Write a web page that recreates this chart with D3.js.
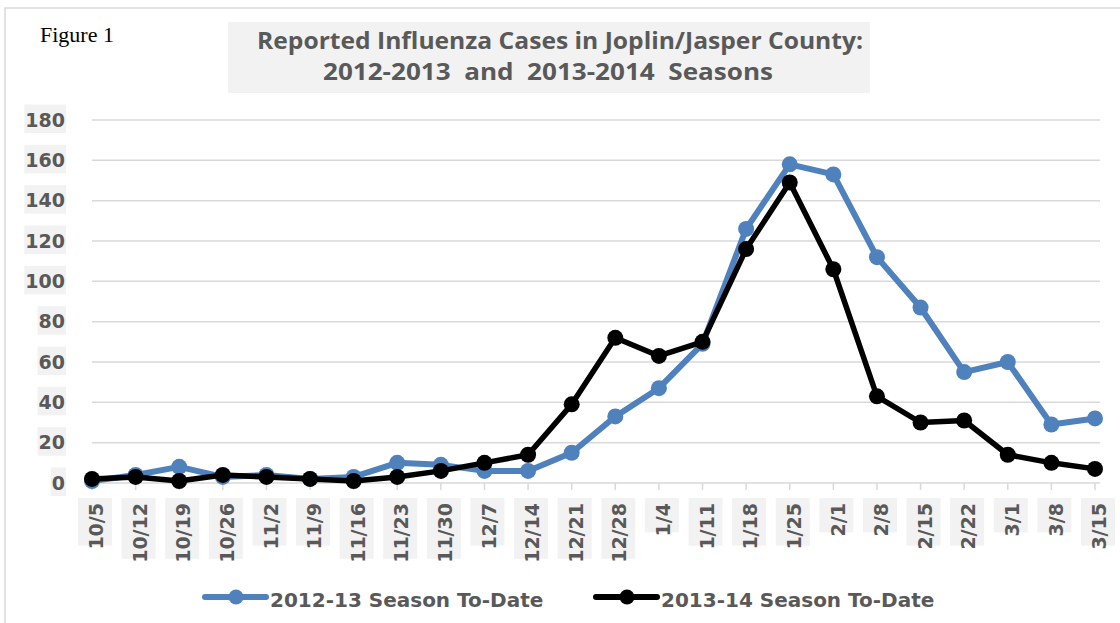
<!DOCTYPE html>
<html>
<head>
<meta charset="utf-8">
<script src="https://cdn.jsdelivr.net/npm/d3@7"></script>
<style>
  body { margin: 0; background: #fff; }
  svg text { white-space: pre; }
</style>
</head>
<body>
<div id="svg"></div>
<script>
// week labels (x axis)
var weeks = ["10/5","10/12","10/19","10/26","11/2","11/9","11/16","11/23","11/30","12/7","12/14",
             "12/21","12/28","1/4","1/11","1/18","1/25","2/1","2/8","2/15","2/22","3/1","3/8","3/15"];
// reported cases per week
var season1213 = [1,4,8,3,4,2,3,10,9,6,6,15,33,47,69,126,158,153,112,87,55,60,29,32];
var season1314 = [2,3,1,4,3,2,1,3,6,10,14,39,72,63,70,116,149,106,43,30,31,14,10,7];
var yTicks = [0,20,40,60,80,100,120,140,160,180];
var seriesNames = ["2012-13 Season To-Date", "2013-14 Season To-Date"];
var titleLines = ["Reported Influenza Cases in Joplin/Jasper County:", "2012-2013  and  2013-2014  Seasons"];

var width = 1120, height = 623;
var blue = "#4F81BD", grey = "#595959", light = "#D9D9D9", boxFill = "#F2F2F2";
var labelFont = "'DejaVu Sans', sans-serif";

var svg = d3.select("#svg").append("svg")
    .attr("width", width)
    .attr("height", height);

// outer chart frame (only top and left visible)
svg.append("rect")
    .attr("x", 5).attr("y", 8)
    .attr("width", 1300).attr("height", 800)
    .attr("fill", "none")
    .attr("stroke", light)
    .attr("stroke-width", 1.5);

svg.append("text")
    .attr("x", 40).attr("y", 42)
    .attr("font-family", "'Liberation Serif', serif")
    .attr("font-size", 22)
    .attr("fill", "#000")
    .text("Figure 1");

// title box
svg.append("rect")
    .attr("x", 228).attr("y", 22)
    .attr("width", 642).attr("height", 71)
    .attr("fill", boxFill);

var titleLen = [606, 450], titleX = [560, 548], titleY = [49, 80];
titleLines.forEach(function(t, i) {
  svg.append("text")
      .attr("x", titleX[i]).attr("y", titleY[i])
      .attr("text-anchor", "middle")
      .attr("font-family", "'Open Sans', sans-serif")
      .attr("font-weight", "bold")
      .attr("font-size", 23.5)
      .attr("fill", grey)
      .attr("textLength", titleLen[i])
      .attr("lengthAdjust", "spacingAndGlyphs")
      .text(t);
});

var x = d3.scalePoint().domain(weeks).range([92, 1095]);
var y = d3.scaleLinear().domain([0, 180]).range([483, 120]);

// gridlines
svg.append("g").selectAll("line")
  .data(yTicks.slice(1))
  .enter().append("line")
    .attr("x1", 92).attr("x2", 1100)
    .attr("y1", function(d) { return y(d); })
    .attr("y2", function(d) { return y(d); })
    .attr("stroke", light)
    .attr("stroke-width", 1.5);

// y axis labels with grey boxes
var yl = svg.append("g").selectAll("g")
  .data(yTicks)
  .enter().append("g")
    .attr("transform", function(d) { return "translate(65," + y(d) + ")"; });
yl.append("text")
    .attr("text-anchor", "end")
    .attr("dy", "0.35em")
    .attr("font-family", labelFont)
    .attr("font-weight", "bold")
    .attr("font-size", 19)
    .attr("fill", grey)
    .text(function(d) { return d; });
yl.each(function() {
  var g = d3.select(this), b = g.select("text").node().getBBox();
  g.insert("rect", "text")
    .attr("x", b.x - 1).attr("y", -15.5)
    .attr("width", b.width + 2).attr("height", 28.5)
    .attr("fill", boxFill);
});

// x axis line + ticks
svg.append("line")
    .attr("x1", 92).attr("x2", 1100)
    .attr("y1", y(0)).attr("y2", y(0))
    .attr("stroke", light).attr("stroke-width", 1.5);
svg.append("g").selectAll("line")
  .data(weeks)
  .enter().append("line")
    .attr("x1", function(d) { return x(d); })
    .attr("x2", function(d) { return x(d); })
    .attr("y1", y(0)).attr("y2", y(0) + 7)
    .attr("stroke", light).attr("stroke-width", 1.5);

// rotated week labels
var xl = svg.append("g").selectAll("g")
  .data(weeks)
  .enter().append("g")
    .attr("transform", function(d) { return "translate(" + (x(d) + 3) + ",503) rotate(-90)"; });
xl.append("text")
    .attr("text-anchor", "end")
    .attr("y", 1.5)
    .attr("dy", "0.35em")
    .attr("font-family", labelFont)
    .attr("font-weight", "bold")
    .attr("font-size", 19)
    .attr("fill", grey)
    .text(function(d) { return d; });
xl.each(function() {
  var g = d3.select(this), b = g.select("text").node().getBBox();
  g.insert("rect", "text")
    .attr("x", b.x + 4).attr("y", -17)
    .attr("width", b.width + 1).attr("height", 34)
    .attr("fill", boxFill);
});

// series
var line = d3.line()
    .x(function(d, i) { return x(weeks[i]); })
    .y(function(d) { return y(d); });

var series = [
  {name: seriesNames[0], values: season1213, color: blue, w: 6},
  {name: seriesNames[1], values: season1314, color: "#000", w: 5.5}
];

series.forEach(function(s) {
  svg.append("path")
      .datum(s.values)
      .attr("fill", "none")
      .attr("stroke", s.color)
      .attr("stroke-width", s.w)
      .attr("stroke-linejoin", "round")
      .attr("d", line);
  svg.append("g").selectAll("circle")
    .data(s.values)
    .enter().append("circle")
      .attr("cx", function(d, i) { return x(weeks[i]); })
      .attr("cy", function(d) { return y(d); })
      .attr("r", 8)
      .attr("fill", s.color);
});

// legend
var legX = [205, 596];
series.forEach(function(s, i) {
  var lg = svg.append("g").attr("transform", "translate(" + legX[i] + ",597)");
  lg.append("line")
      .attr("x1", 0).attr("x2", 61)
      .attr("stroke", s.color)
      .attr("stroke-width", 6)
      .attr("stroke-linecap", "round");
  lg.append("circle").attr("cx", 31).attr("r", 7.5).attr("fill", s.color);
  lg.append("text")
      .attr("x", 65).attr("y", 10)
      .attr("font-family", labelFont)
      .attr("font-weight", "bold")
      .attr("font-size", 20)
      .attr("fill", grey)
      .text(s.name);
});
</script>
</body>
</html>
